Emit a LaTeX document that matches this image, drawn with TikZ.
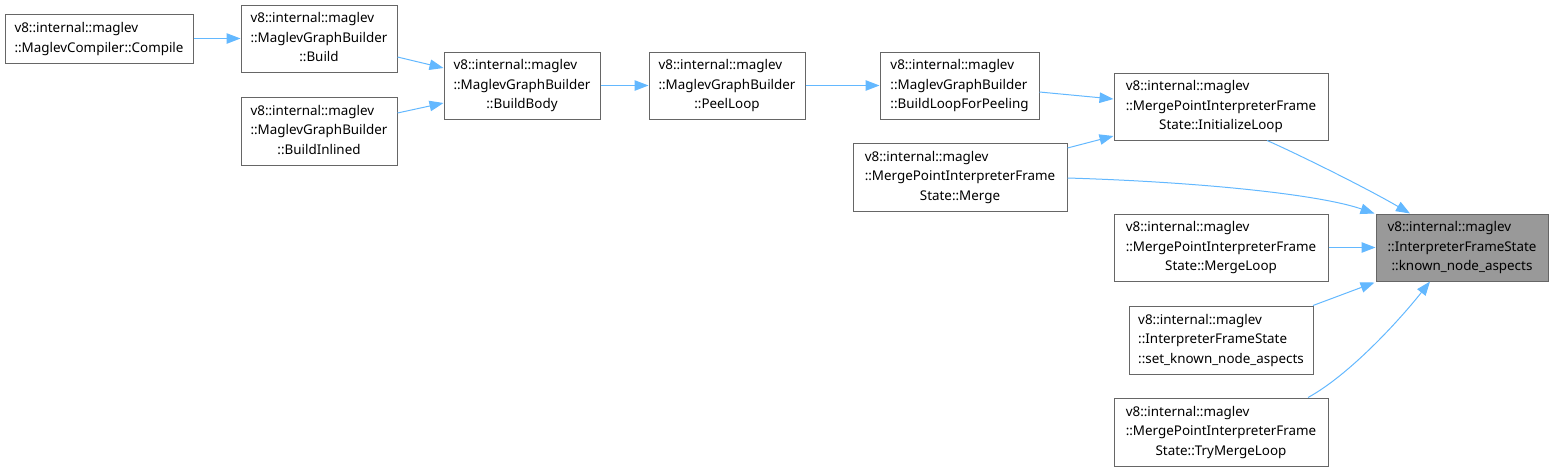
\documentclass[tikz,border=0pt]{standalone}
\usepackage{fontspec}
\setmainfont{Noto Sans}
\usetikzlibrary{arrows.meta,calc}
\newcommand\labiii[3]{\begin{tabular}{@{}l@{}}#1\\#2\\\multicolumn{1}{@{}c@{}}{#3}\end{tabular}}
\newcommand\labii[2]{\begin{tabular}{@{}l@{}}#1\\\multicolumn{1}{@{}c@{}}{#2}\end{tabular}}
\definecolor{edgeblue}{HTML}{63B8FF}
\definecolor{boxgray}{HTML}{666666}
\definecolor{fillgray}{HTML}{999999}
\tikzset{
  fn/.style={draw=boxgray, line width=1pt, fill=white, inner sep=0pt, font=\fontsize{13.4}{19.5}\selectfont, text=black},
  hl/.style={fn, fill=fillgray},
  edge/.style={draw=edgeblue, line width=1pt, -{Triangle[length=14pt,width=10.5pt]}}
}
\begin{document}
\begin{tikzpicture}[x=1pt,y=-1pt]
\useasboundingbox (0,0) rectangle (1554,472);
\node[fn, minimum width=188pt, minimum height=49pt] (compile) at (99,38.5) {\labii{v8::internal::maglev}{::MaglevCompiler::Compile}};
\node[fn, minimum width=156pt, minimum height=67pt] (build) at (319,38.5) {\labiii{v8::internal::maglev}{::MaglevGraphBuilder}{::Build}};
\node[fn, minimum width=156pt, minimum height=68pt] (inl) at (319,131) {\labiii{v8::internal::maglev}{::MaglevGraphBuilder}{::BuildInlined}};
\node[fn, minimum width=156pt, minimum height=67pt] (body) at (522,85.5) {\labiii{v8::internal::maglev}{::MaglevGraphBuilder}{::BuildBody}};
\node[fn, minimum width=156pt, minimum height=67pt] (peel) at (727,85.5) {\labiii{v8::internal::maglev}{::MaglevGraphBuilder}{::PeelLoop}};
\node[fn, minimum width=159pt, minimum height=67pt] (blfp) at (959.5,85.5) {\labiii{v8::internal::maglev}{::MaglevGraphBuilder}{::BuildLoopForPeeling}};
\node[fn, minimum width=214pt, minimum height=67pt] (init) at (1221,106.5) {\labiii{v8::internal::maglev}{::MergePointInterpreterFrame}{State::InitializeLoop}};
\node[fn, minimum width=214pt, minimum height=68pt] (merge) at (960,177) {\labiii{v8::internal::maglev}{::MergePointInterpreterFrame}{State::Merge}};
\node[hl, minimum width=172pt, minimum height=67pt] (target) at (1462,247.5) {\labiii{v8::internal::maglev}{::InterpreterFrameState}{::known\_node\_aspects}};
\node[fn, minimum width=214pt, minimum height=67pt] (mloop) at (1221,247.5) {\labiii{v8::internal::maglev}{::MergePointInterpreterFrame}{State::MergeLoop}};
\node[fn, minimum width=184pt, minimum height=68pt] (setk) at (1221,340) {\labiii{v8::internal::maglev}{::InterpreterFrameState}{::set\_known\_node\_aspects}};
\node[fn, minimum width=214pt, minimum height=68pt] (try) at (1221,432) {\labiii{v8::internal::maglev}{::MergePointInterpreterFrame}{State::TryMergeLoop}};

\draw[edge] (compile.east) -- (build.west);
\draw[edge] ([yshift=-18.5pt]build.east) -- ([yshift=17.5pt]body.west);
\draw[edge] ([yshift=18pt]inl.east) -- ([yshift=-17.5pt]body.west);
\draw[edge] (body.east) -- (peel.west);
\draw[edge] (peel.east) -- (blfp.west);
\draw[edge] ([yshift=-6.5pt]blfp.east) -- ([yshift=7.5pt]init.west);
\draw[edge] ([yshift=29pt]merge.east) -- ([yshift=-29.5pt]init.west);
\draw[edge] ([xshift=46pt]init.south) .. controls ([xshift=69pt,yshift=-10pt]init.south) and ([xshift=-100pt,yshift=28pt]target.north) .. ([xshift=-52pt]target.north);
\draw[edge] ([yshift=-1pt]merge.east) .. controls ([xshift=133pt,yshift=-5pt]merge.east) and ([xshift=-56pt,yshift=19pt]target.north west) .. ([xshift=-1pt]target.north west);
\draw[edge] (mloop.east) -- (target.west);
\draw[edge] ([xshift=92pt]setk.north) -- ([xshift=-1pt,yshift=-1pt]target.south west);
\draw[edge] ([xshift=87pt]try.north) .. controls ([xshift=129pt,yshift=23pt]try.north) and ([xshift=-62pt,yshift=-38pt]target.south) .. ([xshift=-32pt]target.south);
\end{tikzpicture}
\end{document}
